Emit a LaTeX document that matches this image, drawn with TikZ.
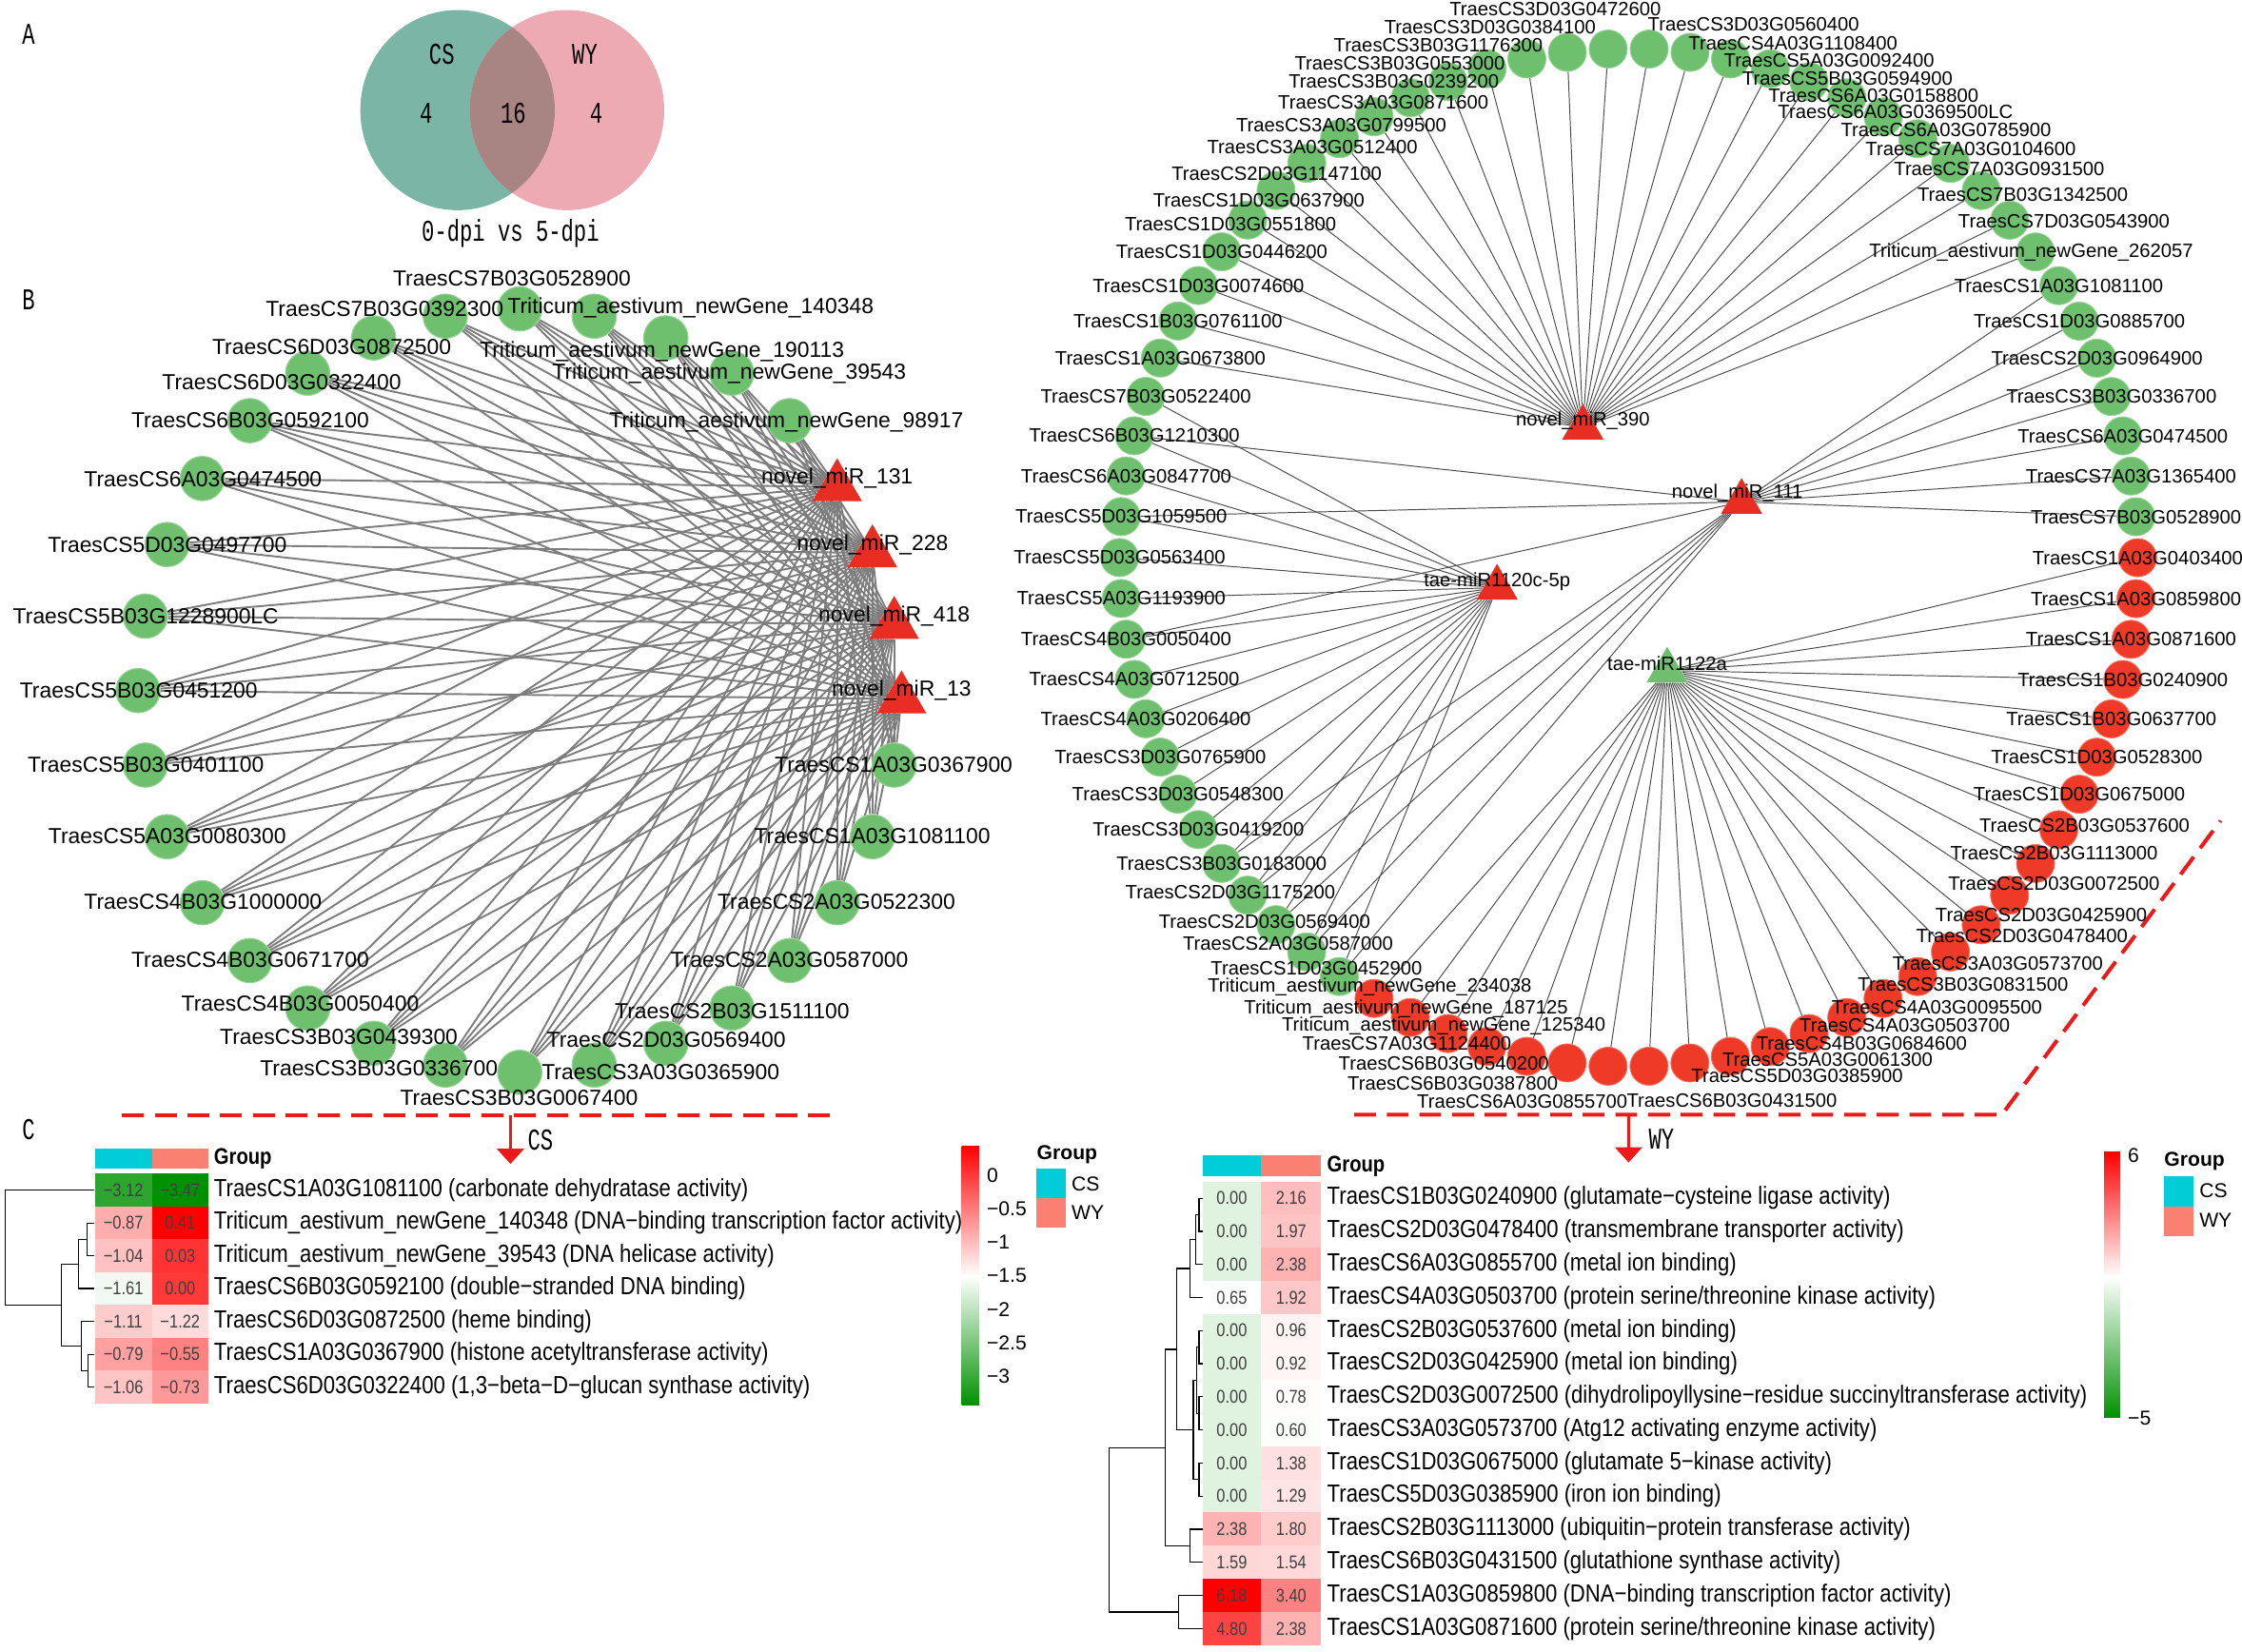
\documentclass[tikz,border=0pt]{standalone}
\usepackage{fontspec}
\setmainfont{Liberation Sans}
\newfontfamily\venfont[FakeStretch=0.7]{Liberation Mono}
\newfontfamily\narrowsans[FakeStretch=0.85]{Liberation Sans}
\usepackage{tikz}
\usetikzlibrary{positioning,shapes,arrows.meta,backgrounds}
\pgfdeclarelayer{front}
\pgfsetlayers{background,main,front}

\definecolor{venL}{RGB}{122,181,166}
\definecolor{venR}{RGB}{238,170,178}
\definecolor{venM}{RGB}{168,132,130}
\definecolor{ngreen}{RGB}{110,192,110}
\definecolor{nred}{RGB}{240,58,40}
\definecolor{tred}{RGB}{232,45,35}
\definecolor{edgel}{RGB}{125,125,125}
\definecolor{edger}{RGB}{75,75,75}
\definecolor{hmred}{RGB}{255,0,0}
\definecolor{hmgreen}{RGB}{0,145,0}
\definecolor{grpcs}{RGB}{0,205,215}
\definecolor{grpwy}{RGB}{250,128,114}
\definecolor{dashred}{RGB}{235,25,25}

\newcommand{\heatcol}[5]{%
  \pgfmathtruncatemacro\hsgn{(#2)>=(#3)}%
  \ifnum\hsgn=1
    \pgfmathtruncatemacro\hpct{min(100,100*((#2)-(#3))/((#4)-(#3)))}%
    \colorlet{#1}{hmred!\hpct!white}%
  \else
    \pgfmathtruncatemacro\hpct{min(100,100*((#3)-(#2))/((#3)-(#5)))}%
    \colorlet{#1}{hmgreen!\hpct!white}%
  \fi}

\begin{document}
\begin{tikzpicture}[x=0.03cm,y=-0.03cm,
  gnode/.style={circle,fill=ngreen,draw=ngreen!70!white,line width=0.6pt,minimum size=0.93cm,inner sep=0pt},
  rnode/.style={circle,fill=#1,draw=#1!70!white,line width=0.5pt,minimum size=0.8cm,inner sep=0pt},
  mirl/.style={regular polygon,regular polygon sides=3,fill=tred,minimum size=1.2cm,inner sep=0pt,yshift=-5pt},
  mirr/.style={regular polygon,regular polygon sides=3,fill=#1,minimum size=1.0cm,inner sep=0pt},
  llab/.style={font=\fontsize{13}{15}\selectfont,inner sep=0pt},
  rlab/.style={font=\fontsize{11.5}{13}\selectfont,inner sep=0pt},
  ledge/.style={edgel,line width=1.1pt},
  redge/.style={edger,line width=0.55pt},
  venn/.style={font=\venfont\fontsize{18}{20}\selectfont,inner sep=0pt},
  hval/.style={font=\narrowsans\fontsize{11}{12}\selectfont,text=black!75,inner sep=0pt},
  hlab/.style={font=\narrowsans\fontsize{14.8}{16}\selectfont,anchor=west,inner sep=0pt},
  hgrp/.style={font=\narrowsans\bfseries\fontsize{13.5}{15}\selectfont,anchor=west,inner sep=0pt},
  grp/.style={font=\bfseries\fontsize{12}{14}\selectfont,anchor=west,inner sep=0pt},
  tick/.style={font=\fontsize{12}{14}\selectfont,anchor=west,inner sep=0pt},
  dend/.style={line width=0.7pt},
  cut/.style={dashred,line width=2.3pt,dash pattern=on 13pt off 6.5pt},
  pointer/.style={dashred,line width=1.3pt,-{Triangle[width=16pt,length=9pt]}}
]
\useasboundingbox (0,0) rectangle (1568,1155);

% A
\fill[venL] (320,77) ellipse [x radius=68,y radius=70];
\fill[venR] (396.5,77) ellipse [x radius=68,y radius=70];
\begin{scope}
  \clip (320,77) ellipse [x radius=68,y radius=70];
  \fill[venM] (396.5,77) ellipse [x radius=68,y radius=70];
\end{scope}
\node[venn] (pA) at (20,24) {A};
\node[venn] (vcs) at (309,38) {CS};
\node[venn] (vwy) at (409,38) {WY};
\node[venn] (v4a) at (298,79) {4};
\node[venn] (v16) at (359,79) {16};
\node[venn] (v4b) at (417,79) {4};
\node[venn] (vdpi) at (357,163) {0-dpi vs 5-dpi};

% B, CS network
\node[venn] (pB) at (20,210) {B};
\foreach \gname/\ang/\lx/\ly [count=\idx] in {
  TraesCS7B03G0528900/90/358/195,
  TraesCS7B03G0392300/101.25/269/216,
  TraesCS6D03G0872500/112.5/232/243,
  TraesCS6D03G0322400/123.75/197/267,
  TraesCS6B03G0592100/135/175/294,
  TraesCS6A03G0474500/146.25/142/335,
  TraesCS5D03G0497700/157.5/117/381,
  TraesCS5B03G1228900LC/168.75/102/431,
  TraesCS5B03G0451200/180/97/483,
  TraesCS5B03G0401100/191.25/102/535,
  TraesCS5A03G0080300/202.5/117/585,
  TraesCS4B03G1000000/213.75/142/631,
  TraesCS4B03G0671700/225/175/671,
  TraesCS4B03G0050400/236.25/210/702,
  TraesCS3B03G0439300/247.5/237/725,
  TraesCS3B03G0336700/258.75/265/747,
  TraesCS3B03G0067400/270/363/768,
  TraesCS3A03G0365900/281.25/462/750,
  TraesCS2D03G0569400/292.5/466/727,
  TraesCS2B03G1511100/303.75/512/707,
  TraesCS2A03G0587000/315/552/671,
  TraesCS2A03G0522300/326.25/585/631,
  TraesCS1A03G1081100/337.5/610/585,
  TraesCS1A03G0367900/348.75/625/535,
  Triticum\_aestivum\_newGene\_98917/45/550/295,
  Triticum\_aestivum\_newGene\_39543/56.25/510/261,
  Triticum\_aestivum\_newGene\_190113/67.5/463/246,
  Triticum\_aestivum\_newGene\_140348/78.75/483/215}
{
  \node[gnode] (L\idx) at ({363.5+267*cos(\ang)},{483-267*sin(\ang)}) {};
  \begin{pgfonlayer}{front}
    \node[llab] (Lt\idx) at (\lx,\ly) {\gname};
  \end{pgfonlayer}
}
\foreach \mname/\ang/\mtag in {novel\_miR\_131/33.75/m131,novel\_miR\_228/22.5/m228,
  novel\_miR\_418/11.25/m418,novel\_miR\_13/0/m13}
{
  \node[mirl] (\mtag) at ({363.5+267*cos(\ang)},{483-267*sin(\ang)}) {};
  \begin{pgfonlayer}{front}
    \node[llab] (t\mtag) at ({363.5+267*cos(\ang)},{483-267*sin(\ang)}) {\mname};
  \end{pgfonlayer}
}
\begin{pgfonlayer}{background}
  \foreach \idx in {1,...,28}
    \foreach \mtag in {m131,m228,m418,m13}
      \draw[ledge] (L\idx) -- (\mtag);
\end{pgfonlayer}

% B, WY network
\foreach \gname/\ox/\oy/\ncol [count=\idx] in {
  TraesCS3D03G0472600/-37/-28/ngreen,
  TraesCS3D03G0560400/73/-17.3/ngreen,
  TraesCS4A03G1108400/72/-6.6/ngreen,
  TraesCS5A03G0092400/69/1.3/ngreen,
  TraesCS5B03G0594900/54/7/ngreen,
  TraesCS6A03G0158800/45/10/ngreen,
  TraesCS6A03G0369500LC/34/10/ngreen,
  TraesCS6A03G0785900/44/9/ngreen,
  TraesCS7A03G0104600/37/7/ngreen,
  TraesCS7A03G0931500/34/4/ngreen,
  TraesCS7B03G1342500/29/3/ngreen,
  TraesCS7D03G0543900/38/1/ngreen,
  Triticum\_aestivum\_newGene\_262057/-3/0/ngreen,
  TraesCS1A03G1081100/0/0/ngreen,
  TraesCS1D03G0885700/0/0/ngreen,
  TraesCS2D03G0964900/0/0/ngreen,
  TraesCS3B03G0336700/0/0/ngreen,
  TraesCS6A03G0474500/0/0/ngreen,
  TraesCS7A03G1365400/0/0/ngreen,
  TraesCS7B03G0528900/0/0/ngreen,
  TraesCS1A03G0403400/0/0/nred,
  TraesCS1A03G0859800/0/0/nred,
  TraesCS1A03G0871600/0/0/nred,
  TraesCS1B03G0240900/0/0/nred,
  TraesCS1B03G0637700/0/0/nred,
  TraesCS1D03G0528300/0/0/nred,
  TraesCS1D03G0675000/0/0/nred,
  TraesCS2B03G0537600/18/-3/nred,
  TraesCS2B03G1113000/13/-7/nred,
  TraesCS2D03G0072500/31/-8/nred,
  TraesCS2D03G0425900/42/-7/nred,
  TraesCS2D03G0478400/50/-11/nred,
  TraesCS3A03G0573700/56/-9/nred,
  TraesCS3B03G0831500/56/-10/nred,
  TraesCS4A03G0095500/63/-7/nred,
  TraesCS4A03G0503700/67/-6/nred,
  TraesCS4B03G0684600/64/-2/nred,
  TraesCS5A03G0061300/68/2/nred,
  TraesCS5D03G0385900/75/9/nred,
  TraesCS6B03G0431500/58/24/nred,
  TraesCS6A03G0855700/-60/25/nred,
  TraesCS6B03G0387800/-80/14/nred,
  TraesCS6B03G0540200/-58/5/nred,
  TraesCS7A03G1124400/-56/-2/nred,
  Triticum\_aestivum\_newGene\_125340/-3/-5/nred,
  Triticum\_aestivum\_newGene\_187125/-3/-6/nred,
  Triticum\_aestivum\_newGene\_234038/-3/-8/nred,
  TraesCS1D03G0452900/-16/-6/ngreen,
  TraesCS2A03G0587000/-13/-6/ngreen,
  TraesCS2D03G0569400/-8/-2/ngreen,
  TraesCS2D03G1175200/-12/-2/ngreen,
  TraesCS3B03G0183000/0/0/ngreen,
  TraesCS3D03G0419200/0/0/ngreen,
  TraesCS3D03G0548300/0/0/ngreen,
  TraesCS3D03G0765900/0/0/ngreen,
  TraesCS4A03G0206400/0/0/ngreen,
  TraesCS4A03G0712500/0/0/ngreen,
  TraesCS4B03G0050400/0/0/ngreen,
  TraesCS5A03G1193900/0/0/ngreen,
  TraesCS5D03G0563400/0/0/ngreen,
  TraesCS5D03G1059500/0/0/ngreen,
  TraesCS6A03G0847700/0/0/ngreen,
  TraesCS6B03G1210300/0/0/ngreen,
  TraesCS7B03G0522400/0/0/ngreen,
  TraesCS1A03G0673800/0/0/ngreen,
  TraesCS1B03G0761100/0/0/ngreen,
  TraesCS1D03G0074600/0/0/ngreen,
  TraesCS1D03G0446200/0/0/ngreen,
  TraesCS1D03G0551800/-12/3/ngreen,
  TraesCS1D03G0637900/-12/7/ngreen,
  TraesCS2D03G1147100/-21/7/ngreen,
  TraesCS3A03G0512400/-19/6/ngreen,
  TraesCS3A03G0799500/-23/6/ngreen,
  TraesCS3A03G0871600/-19/3/ngreen,
  TraesCS3B03G0239200/-38/0/ngreen,
  TraesCS3B03G0553000/-61/-4/ngreen,
  TraesCS3B03G1176300/-62/-9.7/ngreen,
  TraesCS3D03G0384100/-54/-17.6/ngreen}
{
  \pgfmathsetmacro\ang{92.3-(\idx-1)*4.615385}
  \node[rnode=\ncol] (R\idx) at ({1139+356*cos(\ang)},{390-356*sin(\ang)}) {};
  \begin{pgfonlayer}{front}
    \node[rlab] (Rt\idx) at ([shift={(\ox,\oy)}]R\idx) {\gname};
  \end{pgfonlayer}
}
\node[mirr=tred] (m390) at (1107,299) {};
\node[mirr=tred] (m111) at (1218,351) {};
\node[mirr=tred] (m1120) at (1047,411) {};
\node[mirr=ngreen] (m1122) at (1166,469) {};
\begin{pgfonlayer}{front}
  \node[rlab] (tm390) at (1107,294) {novel\_miR\_390};
  \node[rlab] (tm111) at (1215,345) {novel\_miR\_111};
  \node[rlab] (tm1120) at (1047,407) {tae-miR1120c-5p};
  \node[rlab] (tm1122) at (1166,464) {tae-miR1122a};
\end{pgfonlayer}
\begin{pgfonlayer}{background}
  \foreach \idx in {1,...,13} \draw[redge] (R\idx) -- (m390);
  \foreach \idx in {65,...,78} \draw[redge] (R\idx) -- (m390);
  \foreach \idx in {14,...,20} \draw[redge] (R\idx) -- (m111);
  \foreach \idx in {48,49,50,51,52,58,61,63} \draw[redge] (R\idx) -- (m111);
  \foreach \idx in {48,...,64} \draw[redge] (R\idx) -- (m1120);
  \foreach \idx in {21,...,47} \draw[redge] (R\idx) -- (m1122);
\end{pgfonlayer}

% dashed cuts
\coordinate (csA) at (85.4,780);
\coordinate (csB) at (588,780);
\coordinate (csT) at (357,780);
\coordinate (csE) at (357,814);
\draw[cut] (csA) -- (csB);
\draw[pointer] (csT) -- (csE);
\node[venn] (cslab) at (378,797.5) {CS};
\coordinate (wyA) at (947,779.6);
\coordinate (wyB) at (1400,779.6);
\coordinate (wyC) at (1553,574);
\coordinate (wyT) at (1139,779.6);
\coordinate (wyE) at (1139,813);
\draw[cut] (wyA) -- (wyB) -- (wyC);
\draw[pointer] (wyT) -- (wyE);
\node[venn] (wylab) at (1162,797) {WY};

% C, CS heatmap
\node[venn] (pC) at (20,790) {C};
\fill[grpcs] (66.3,803) rectangle (106.4,817.5);
\fill[grpwy] (106.4,803) rectangle (145.7,817.5);
\node[hgrp] (cshead) at (149.5,810.5) {Group};
\foreach \va/\vb/\tva/\tvb/\txt [count=\rw] in {
  -3.12/-3.47/−3.12/−3.47/{TraesCS1A03G1081100 (carbonate dehydratase activity)},
  -0.87/0.41/−0.87/0.41/{Triticum\_aestivum\_newGene\_140348 (DNA−binding transcription factor activity)},
  -1.04/0.03/−1.04/0.03/{Triticum\_aestivum\_newGene\_39543 (DNA helicase activity)},
  -1.61/0.00/−1.61/0.00/{TraesCS6B03G0592100 (double−stranded DNA binding)},
  -1.11/-1.22/−1.11/−1.22/{TraesCS6D03G0872500 (heme binding)},
  -0.79/-0.55/−0.79/−0.55/{TraesCS1A03G0367900 (histone acetyltransferase activity)},
  -1.06/-0.73/−1.06/−0.73/{TraesCS6D03G0322400 (1,3−beta−D−glucan synthase activity)}}
{
  \pgfmathsetmacro\yy{832.3+(\rw-1)*22.97}
  \heatcol{ca}{\va}{-1.5}{0.41}{-3.47}
  \heatcol{cb}{\vb}{-1.5}{0.41}{-3.47}
  \fill[ca] (66.3,\yy-11.6) rectangle (106.4,\yy+11.6);
  \fill[cb] (106.4,\yy-11.6) rectangle (145.7,\yy+11.6);
  \node[hval] (csa\rw) at (86.3,\yy) {\tva};
  \node[hval] (csb\rw) at (126,\yy) {\tvb};
  \node[hlab] (csl\rw) at (149.5,\yy) {\txt};
}
\draw[dend] (66,855.3) -- (60.7,855.3) -- (60.7,878.2) -- (66,878.2);
\draw[dend] (60.7,866.75) -- (55,866.75) -- (55,901.2) -- (66,901.2);
\draw[dend] (66,947.2) -- (61.6,947.2) -- (61.6,970.1) -- (66,970.1);
\draw[dend] (66,924.2) -- (57,924.2) -- (57,958.65) -- (61.6,958.65);
\draw[dend] (55,884) -- (43,884) -- (43,941.4) -- (57,941.4);
\draw[dend] (66,832.3) -- (3.7,832.3) -- (3.7,912.7) -- (43,912.7);
\shade[top color=hmred,bottom color=white] (672.6,801.3) rectangle (684.8,892.6);
\shade[top color=white,bottom color=hmgreen] (672.6,892.2) rectangle (684.8,982.7);
\foreach \tk [count=\j from 0] in {0,−0.5,−1,−1.5,−2,−2.5,−3}
  \node[tick] (cst\j) at (690,821.9+\j*23.48) {\tk};
\node[grp] (cslg) at (725,807.5) {Group};
\fill[grpcs] (725,817.5) rectangle (745.3,838.1);
\fill[grpwy] (725,838.1) rectangle (745.3,858.5);
\node[tick] (cslcs) at (749.3,827.8) {CS};
\node[tick] (cslwy) at (749.3,848.3) {WY};

% C, WY heatmap
\fill[grpcs] (841,807.7) rectangle (882,822.4);
\fill[grpwy] (882,807.7) rectangle (924,822.4);
\node[hgrp] (wyhead) at (928,815.5) {Group};
\foreach \va/\vb/\tva/\tvb/\txt [count=\rw] in {
  0/2.16/0.00/2.16/{TraesCS1B03G0240900 (glutamate−cysteine ligase activity)},
  0/1.97/0.00/1.97/{TraesCS2D03G0478400 (transmembrane transporter activity)},
  0/2.38/0.00/2.38/{TraesCS6A03G0855700 (metal ion binding)},
  0.65/1.92/0.65/1.92/{TraesCS4A03G0503700 (protein serine/threonine kinase activity)},
  0/0.96/0.00/0.96/{TraesCS2B03G0537600 (metal ion binding)},
  0/0.92/0.00/0.92/{TraesCS2D03G0425900 (metal ion binding)},
  0/0.78/0.00/0.78/{TraesCS2D03G0072500 (dihydrolipoyllysine−residue succinyltransferase activity)},
  0/0.60/0.00/0.60/{TraesCS3A03G0573700 (Atg12 activating enzyme activity)},
  0/1.38/0.00/1.38/{TraesCS1D03G0675000 (glutamate 5−kinase activity)},
  0/1.29/0.00/1.29/{TraesCS5D03G0385900 (iron ion binding)},
  2.38/1.80/2.38/1.80/{TraesCS2B03G1113000 (ubiquitin−protein transferase activity)},
  1.59/1.54/1.59/1.54/{TraesCS6B03G0431500 (glutathione synthase activity)},
  6.18/3.40/6.18/3.40/{TraesCS1A03G0859800 (DNA−binding transcription factor activity)},
  4.80/2.38/4.80/2.38/{TraesCS1A03G0871600 (protein serine/threonine kinase activity)}}
{
  \pgfmathsetmacro\yy{838+(\rw-1)*23.15}
  \heatcol{ca}{\va}{0.7}{6.18}{-5}
  \heatcol{cb}{\vb}{0.7}{6.18}{-5}
  \fill[ca] (841,\yy-11.7) rectangle (882,\yy+11.7);
  \fill[cb] (882,\yy-11.7) rectangle (924,\yy+11.7);
  \node[hval] (wya\rw) at (861.5,\yy) {\tva};
  \node[hval] (wyb\rw) at (903,\yy) {\tvb};
  \node[hlab] (wyl\rw) at (928,\yy) {\txt};
}
\draw[dend] (841,838) -- (838.5,838) -- (838.5,861.15) -- (841,861.15);
\draw[dend] (838.5,849.6) -- (836,849.6) -- (836,884.3) -- (841,884.3);
\draw[dend] (836,866.95) -- (832,866.95) -- (832,907.45) -- (841,907.45);
\draw[dend] (841,930.6) -- (838.5,930.6) -- (838.5,953.75) -- (841,953.75);
\draw[dend] (841,976.9) -- (838.5,976.9) -- (838.5,1000.05) -- (841,1000.05);
\draw[dend] (838.5,942.2) -- (837,942.2) -- (837,988.5) -- (838.5,988.5);
\draw[dend] (841,1023.2) -- (838.5,1023.2) -- (838.5,1046.35) -- (841,1046.35);
\draw[dend] (837,965.35) -- (834.5,965.35) -- (834.5,1034.8) -- (838.5,1034.8);
\draw[dend] (832,887.2) -- (823,887.2) -- (823,1000.1) -- (834.5,1000.1);
\draw[dend] (841,1069.5) -- (832,1069.5) -- (832,1092.65) -- (841,1092.65);
\draw[dend] (823,943.65) -- (815,943.65) -- (815,1081.1) -- (832,1081.1);
\draw[dend] (841,1115.8) -- (824,1115.8) -- (824,1138.95) -- (841,1138.95);
\draw[dend] (815,1012.4) -- (775.5,1012.4) -- (775.5,1127.4) -- (824,1127.4);
\shade[top color=hmred,bottom color=white] (1471.5,805.8) rectangle (1482.8,893.2);
\shade[top color=white,bottom color=hmgreen] (1471.5,892.8) rectangle (1482.8,991.4);
\node[tick] (wyt6) at (1488,808) {6};
\node[tick] (wyt5) at (1488,992) {−5};
\node[grp] (wylg) at (1513.5,812) {Group};
\fill[grpcs] (1513.5,822.4) rectangle (1534,843.6);
\fill[grpwy] (1513.5,843.6) rectangle (1534,864.4);
\node[tick] (wylcs) at (1538,832.6) {CS};
\node[tick] (wylwy) at (1538,853.4) {WY};
\end{tikzpicture}
\end{document}
